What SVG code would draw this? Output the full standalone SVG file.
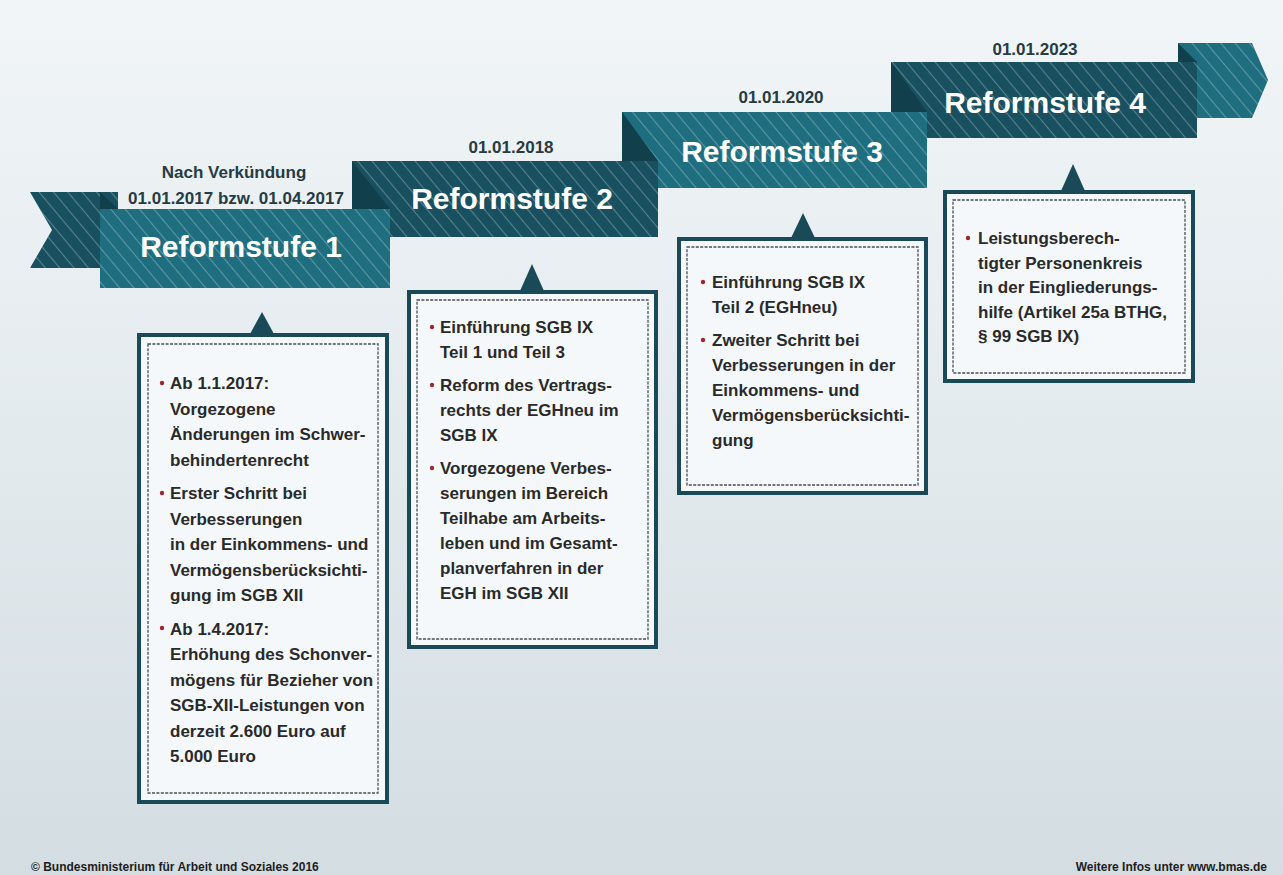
<svg xmlns="http://www.w3.org/2000/svg" width="1283" height="875" viewBox="0 0 1283 875">
<defs>
<linearGradient id="bg" x1="0" y1="0" x2="0" y2="1">
<stop offset="0" stop-color="#f1f5f7"/>
<stop offset="0.5" stop-color="#e3eaee"/>
<stop offset="1" stop-color="#d3dde2"/>
</linearGradient>
<pattern id="stripes" width="11" height="11" patternUnits="userSpaceOnUse" patternTransform="rotate(-40)">
<line x1="5.5" y1="0" x2="5.5" y2="11" stroke="#ffffff" stroke-opacity="0.28" stroke-width="1.1"/>
</pattern>
<style>
.lt{fill:#1e6e7f}
.dk{fill:#185060}
.fold{fill:#113f4b}
.st{fill:url(#stripes)}
.title{font-family:"Liberation Sans",Arial,sans-serif;font-weight:bold;font-size:30px;fill:#ffffff;text-anchor:middle}
.date{font-family:"Liberation Sans",Arial,sans-serif;font-weight:bold;font-size:17px;fill:#273b43;text-anchor:middle}
.frame{fill:#f4f8fa;stroke:#1a4a58;stroke-width:4}
.dash{fill:none;stroke:#4a4f52;stroke-width:1.3;stroke-dasharray:3 1.4}
.ptr{fill:#1a4a58}
.body{font-family:"Liberation Sans",Arial,sans-serif;font-weight:bold;font-size:17px;fill:#2a2a2a}
.dot{fill:#a3242e}
.foot{font-family:"Liberation Sans",Arial,sans-serif;font-weight:bold;font-size:12px;fill:#1e1e1e}
</style>
</defs>
<rect x="0" y="0" width="1283" height="875" fill="url(#bg)"/>

<g id="connectors">
<!-- ribbon (back to front) -->
<polygon class="lt" points="1178,43 1252,43 1268,80 1252,118 1178,118"/>
<polygon class="st" points="1178,43 1252,43 1268,80 1252,118 1178,118"/>
<polygon class="fold" points="1178,43 1178,62 1197,62"/>
<rect class="dk" x="891" y="62" width="306" height="76"/>
<rect class="st" x="891" y="62" width="306" height="76"/>
<polygon class="fold" points="891,62 891,112 927,112"/>
<rect class="lt" x="622" y="112" width="305" height="76"/>
<rect class="st" x="622" y="112" width="305" height="76"/>
<polygon class="fold" points="622,112 622,161 658,161"/>
<rect class="dk" x="352" y="161" width="306" height="76"/>
<rect class="st" x="352" y="161" width="306" height="76"/>
<polygon class="fold" points="352,161 352,209 390,209"/>
<polygon class="dk" points="30,192 118,192 118,268 30,268 52,230"/>
<polygon class="st" points="30,192 118,192 118,268 30,268 52,230"/>
<polygon class="fold" points="100,192 100,209 118,209"/>
<rect class="lt" x="100" y="209" width="290" height="79"/>
<rect class="st" x="100" y="209" width="290" height="79"/>
</g>

<g id="stufe1">
<text class="date" x="234" y="178">Nach Verkündung</text>
<text class="date" x="236" y="204">01.01.2017 bzw. 01.04.2017</text>
<text class="title" x="241" y="257">Reformstufe 1</text>
<polygon class="ptr" points="250,334 262,312 274,334"/>
<rect class="frame" x="139" y="335" width="248" height="467"/>
<rect class="dash" x="148" y="344" width="230" height="449"/>
<circle class="dot" cx="162" cy="383" r="2.2"/>
<circle class="dot" cx="162" cy="493" r="2.2"/>
<circle class="dot" cx="162" cy="628" r="2.2"/>
<text class="body">
<tspan x="170" y="389">Ab 1.1.2017:</tspan>
<tspan x="170" y="414.5">Vorgezogene</tspan>
<tspan x="170" y="440">Änderungen im Schwer-</tspan>
<tspan x="170" y="465.5">behindertenrecht</tspan>
<tspan x="170" y="499">Erster Schritt bei</tspan>
<tspan x="170" y="524.5">Verbesserungen</tspan>
<tspan x="170" y="550">in der Einkommens- und</tspan>
<tspan x="170" y="575.5">Vermögensberücksichti-</tspan>
<tspan x="170" y="601">gung im SGB XII</tspan>
<tspan x="170" y="634.5">Ab 1.4.2017:</tspan>
<tspan x="170" y="660">Erhöhung des Schonver-</tspan>
<tspan x="170" y="685.5">mögens für Bezieher von</tspan>
<tspan x="170" y="711">SGB-XII-Leistungen von</tspan>
<tspan x="170" y="736.5">derzeit 2.600 Euro auf</tspan>
<tspan x="170" y="762">5.000 Euro</tspan>
</text>
</g>

<g id="stufe2">
<text class="date" x="511" y="153">01.01.2018</text>
<text class="title" x="512" y="209">Reformstufe 2</text>
<polygon class="ptr" points="520,291 532,264 544,291"/>
<rect class="frame" x="409" y="292" width="247" height="355"/>
<rect class="dash" x="417" y="300" width="231" height="339"/>
<circle class="dot" cx="432" cy="327" r="2.2"/>
<circle class="dot" cx="432" cy="385" r="2.2"/>
<circle class="dot" cx="432" cy="468" r="2.2"/>
<text class="body">
<tspan x="440" y="333">Einführung SGB IX</tspan>
<tspan x="440" y="357.5">Teil 1 und Teil 3</tspan>
<tspan x="440" y="391">Reform des Vertrags-</tspan>
<tspan x="440" y="416">rechts der EGHneu im</tspan>
<tspan x="440" y="441">SGB IX</tspan>
<tspan x="440" y="474">Vorgezogene Verbes-</tspan>
<tspan x="440" y="499">serungen im Bereich</tspan>
<tspan x="440" y="524">Teilhabe am Arbeits-</tspan>
<tspan x="440" y="549">leben und im Gesamt-</tspan>
<tspan x="440" y="574">planverfahren in der</tspan>
<tspan x="440" y="599">EGH im SGB XII</tspan>
</text>
</g>

<g id="stufe3">
<text class="date" x="781" y="103">01.01.2020</text>
<text class="title" x="782" y="162">Reformstufe 3</text>
<polygon class="ptr" points="791,238 803,213 815,238"/>
<rect class="frame" x="679" y="239" width="247" height="254"/>
<rect class="dash" x="687" y="247" width="231" height="238"/>
<circle class="dot" cx="703" cy="282" r="2.2"/>
<circle class="dot" cx="703" cy="340" r="2.2"/>
<text class="body">
<tspan x="712" y="288">Einführung SGB IX</tspan>
<tspan x="712" y="312.5">Teil 2 (EGHneu)</tspan>
<tspan x="712" y="346">Zweiter Schritt bei</tspan>
<tspan x="712" y="371">Verbesserungen in der</tspan>
<tspan x="712" y="396">Einkommens- und</tspan>
<tspan x="712" y="421">Vermögensberücksichti-</tspan>
<tspan x="712" y="446">gung</tspan>
</text>
</g>

<g id="stufe4">
<text class="date" x="1035" y="55">01.01.2023</text>
<text class="title" x="1045" y="113">Reformstufe 4</text>
<polygon class="ptr" points="1061,191 1073,164 1085,191"/>
<rect class="frame" x="945" y="192" width="248" height="189"/>
<rect class="dash" x="953" y="200" width="232" height="173"/>
<circle class="dot" cx="968" cy="238" r="2.2"/>
<text class="body">
<tspan x="978" y="244">Leistungsberech-</tspan>
<tspan x="978" y="268.5">tigter Personenkreis</tspan>
<tspan x="978" y="293">in der Eingliederungs-</tspan>
<tspan x="978" y="317.5">hilfe (Artikel 25a BTHG,</tspan>
<tspan x="978" y="342">§ 99 SGB IX)</tspan>
</text>
</g>

<g id="footer">
<text class="foot" x="31" y="871">© Bundesministerium für Arbeit und Soziales 2016</text>
<text class="foot" x="1267" y="871" text-anchor="end">Weitere Infos unter www.bmas.de</text>
</g>
</svg>
